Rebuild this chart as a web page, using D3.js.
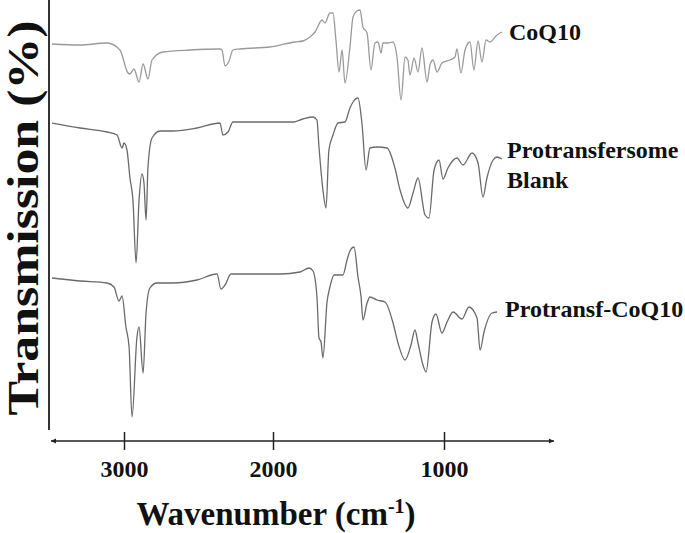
<!DOCTYPE html>
<html>
<head>
  <meta charset="utf-8">
  <title>FTIR spectra</title>
  <script src="https://d3js.org/d3.v7.min.js"></script>
  <style>
    body { margin: 0; background: #fff; }
    text { font-family: "Liberation Serif", "Times New Roman", serif; font-weight: bold; fill: #111; }
  </style>
</head>
<body>
<script>
  // spectra: [wavenumber, transmission]
  var coq10 = [
    [3483,91.2],[3295,91.0],[3114,91.4],[3027,90.0],[2973,85.4],[2960,85.2],[2933,86.2],[2899,83.6],
    [2872,87.2],[2839,84.2],[2812,88.0],[2738,89.6],[2557,90.0],[2356,90.2],[2342,90.0],[2322,86.8],
    [2295,87.8],[2269,90.0],[2222,90.2],[2020,90.6],[1871,91.6],[1825,91.8],[1784,92.6],[1754,93.6],
    [1713,96.0],[1696,95.4],[1667,97.4],[1649,97.4],[1632,92.0],[1614,85.6],[1596,90.0],[1579,83.4],
    [1550,90.6],[1532,96.6],[1509,97.8],[1491,98.0],[1474,94.6],[1450,93.4],[1427,86.0],[1404,91.4],
    [1386,91.6],[1368,89.4],[1357,91.4],[1327,91.4],[1298,91.6],[1275,88.6],[1251,80.0],[1228,88.6],
    [1211,88.0],[1199,85.0],[1175,88.4],[1152,85.6],[1129,90.4],[1099,83.6],[1082,87.0],[1064,88.0],
    [1041,85.6],[1012,87.4],[965,88.0],[936,88.6],[924,90.2],[901,85.4],[877,90.0],[848,91.6],
    [825,86.0],[801,91.8],[778,87.6],[754,92.0],[731,91.6],[690,93.0],[661,93.6]
  ];
  var blank = [
    [3483,75.4],[3295,74.4],[3114,73.6],[3047,73.0],[3013,70.4],[3000,71.4],[2980,70.0],[2960,64.4],
    [2940,60.0],[2919,47.4],[2899,60.0],[2879,65.2],[2866,63.4],[2852,56.0],[2839,66.6],[2812,72.4],
    [2758,73.8],[2671,73.8],[2510,74.4],[2356,75.4],[2336,73.0],[2302,73.6],[2269,75.6],[1959,75.6],
    [1883,75.6],[1825,76.2],[1766,76.6],[1743,76.0],[1731,70.6],[1708,62.0],[1690,58.4],[1673,70.0],
    [1649,73.0],[1620,75.4],[1579,75.6],[1550,78.4],[1532,79.6],[1503,80.4],[1480,75.4],[1456,66.0],
    [1433,70.4],[1392,70.6],[1333,70.4],[1287,66.4],[1257,62.0],[1211,58.4],[1181,61.4],[1152,64.4],
    [1111,57.0],[1088,56.4],[1058,66.0],[1029,68.0],[1006,64.2],[977,66.4],[924,68.4],[889,67.0],
    [836,69.4],[801,67.4],[772,60.6],[749,64.4],[713,68.0],[690,68.6],[661,68.2]
  ];
  var protransfCoq10 = [
    [3483,44.4],[3295,43.8],[3114,43.4],[3067,42.6],[3034,39.8],[3013,40.8],[2987,34.6],[2966,30.6],
    [2946,16.6],[2913,32.6],[2899,34.6],[2872,25.4],[2852,37.4],[2826,42.4],[2779,43.4],[2671,43.4],
    [2510,44.0],[2376,45.2],[2349,42.2],[2322,43.0],[2282,45.2],[1959,45.2],[1842,45.6],[1789,46.4],
    [1766,45.8],[1743,40.6],[1731,32.4],[1719,31.6],[1708,28.4],[1684,39.6],[1667,42.6],[1643,45.0],
    [1591,45.0],[1567,48.0],[1550,49.8],[1526,50.6],[1503,44.6],[1485,40.6],[1474,36.0],[1450,39.4],
    [1433,40.6],[1392,40.0],[1345,39.6],[1298,35.4],[1269,31.4],[1228,28.0],[1193,31.0],[1170,34.0],
    [1152,31.4],[1123,27.0],[1105,25.6],[1070,35.6],[1047,37.2],[1012,33.4],[982,35.6],[947,37.6],
    [895,36.2],[854,38.6],[807,36.4],[789,30.0],[766,33.6],[719,37.4],[690,37.6]
  ];
  var seriesNames = ["CoQ10", "Protransfersome\nBlank", "Protransf-CoQ10"];
  var tickValues = [3000, 2000, 1000];
  var axisEnds = [3490, 357];

  var width = 685, height = 533;
  var svg = d3.select("body").append("svg").attr("width", width).attr("height", height);

  // hand-drawn axis in the original: ticks are not evenly spaced
  var x = d3.scaleLinear().domain([3000, 2000, 1000]).range([124, 273, 444]);
  var y = d3.scaleLinear().domain([0, 100]).range([500, 0]);

  var line = d3.line()
    .x(function(d) { return x(d[0]); })
    .y(function(d) { return y(d[1]); })
    .curve(d3.curveMonotoneX);

  var series = [
    { data: coq10, color: "#9a9a9a", label: seriesNames[0], lx: 509, ly: 40 },
    { data: blank, color: "#6a6a6a", label: seriesNames[1], lx: 507, ly: 158 },
    { data: protransfCoq10, color: "#6a6a6a", label: seriesNames[2], lx: 505, ly: 317 }
  ];

  svg.selectAll("path.spec")
    .data(series)
    .enter().append("path")
    .attr("class", "spec")
    .attr("d", function(d) { return line(d.data); })
    .attr("fill", "none")
    .attr("stroke", function(d) { return d.color; })
    .attr("stroke-width", 1.3);

  series.forEach(function(s) {
    var t = svg.append("text").attr("x", s.lx).attr("y", s.ly).attr("font-size", 24);
    s.label.split("\n").forEach(function(part, i) {
      t.append("tspan").attr("x", s.lx).attr("dy", i === 0 ? 0 : 30).text(part);
    });
  });

  // y axis line (no ticks)
  svg.append("line")
    .attr("x1", 49).attr("x2", 49)
    .attr("y1", y(100)).attr("y2", y(14))
    .attr("stroke", "#333").attr("stroke-width", 2);

  // x axis
  var axisY = 441;
  svg.append("line")
    .attr("x1", x(axisEnds[0])).attr("x2", x(axisEnds[1]))
    .attr("y1", axisY).attr("y2", axisY)
    .attr("stroke", "#222").attr("stroke-width", 1.5);
  svg.append("path")
    .attr("d", "M" + x(axisEnds[0]) + "," + axisY + "l5,-2.5v5z")
    .attr("fill", "#222");
  svg.append("path")
    .attr("d", "M" + x(axisEnds[1]) + "," + axisY + "l-5,-2.5v5z")
    .attr("fill", "#222");

  var gx = svg.append("g")
    .attr("transform", "translate(0," + (axisY - 9) + ")")
    .call(d3.axisBottom(x).tickValues(tickValues).tickSize(18).tickPadding(10).tickFormat(d3.format("d")));
  gx.select(".domain").remove();
  gx.selectAll(".tick line").attr("stroke", "#222").attr("stroke-width", 1.5);
  gx.selectAll(".tick text")
    .attr("font-size", 24)
    .attr("font-family", "Liberation Serif, serif")
    .attr("font-weight", "bold")
    .attr("fill", "#111")
    .attr("dy", "0.71em")
    .attr("y", 28);

  // axis titles
  var xt = svg.append("text")
    .attr("x", 276).attr("y", 525)
    .attr("text-anchor", "middle")
    .attr("font-size", 33);
  xt.append("tspan").text("Wavenumber (cm");
  xt.append("tspan").attr("font-size", 20).attr("dy", -12).text("-1");
  xt.append("tspan").attr("dy", 12).text(")");

  svg.append("text")
    .attr("transform", "translate(38,218) rotate(-90)")
    .attr("text-anchor", "middle")
    .attr("font-size", 44)
    .attr("textLength", 395)
    .attr("lengthAdjust", "spacingAndGlyphs")
    .text("Transmission (%)");
</script>
</body>
</html>
